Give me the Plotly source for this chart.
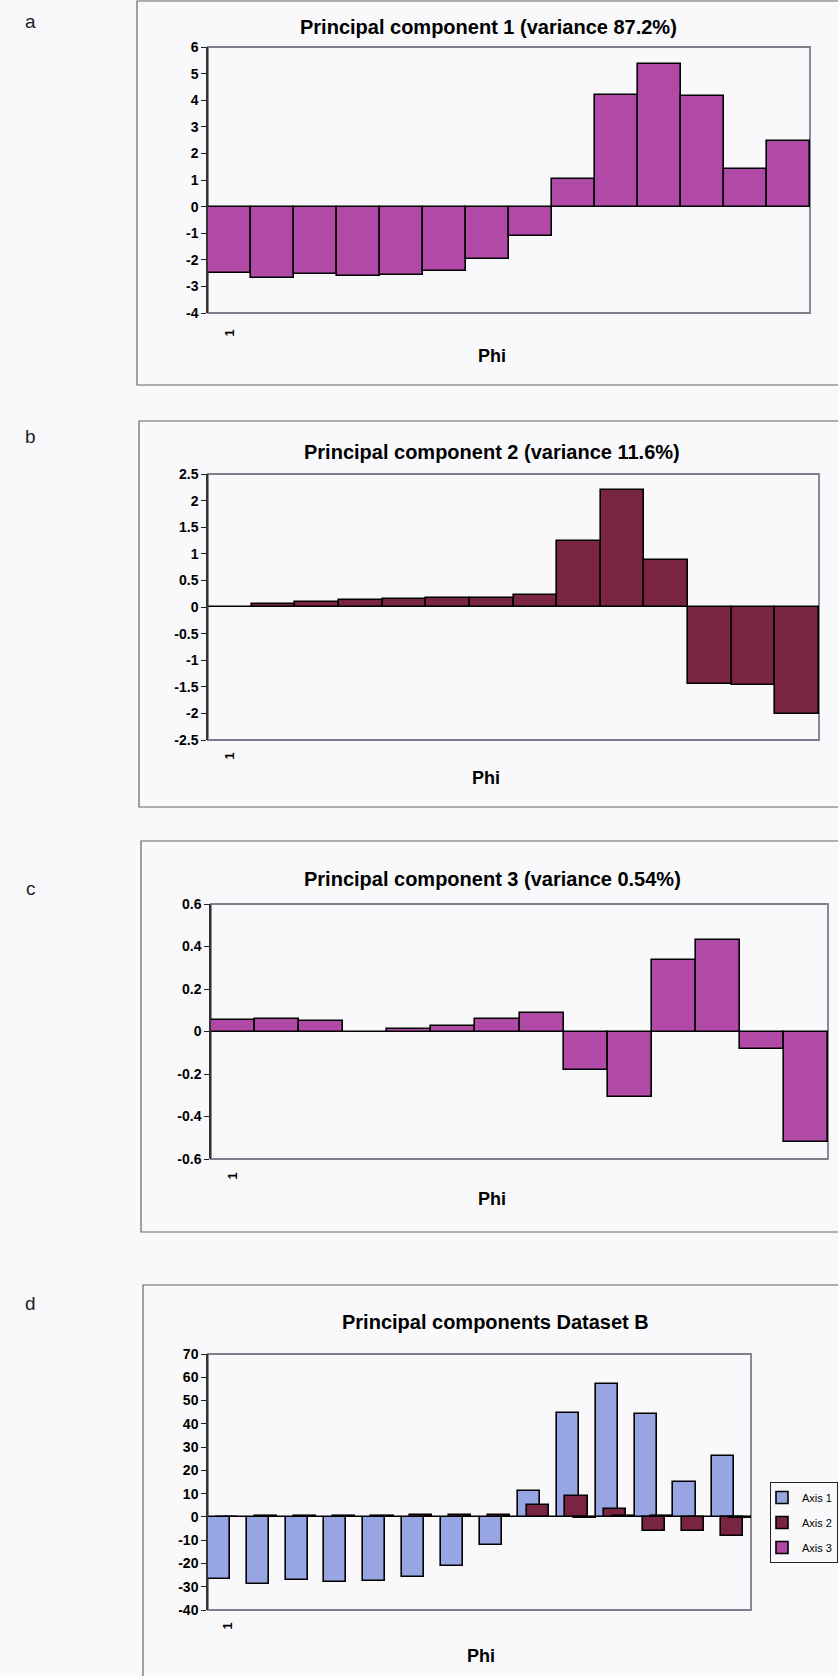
import plotly.graph_objects as go

# ---------------- data ----------------
categories = list(range(1, 15))
x_tick_labels = ["1"]

pc1 = [-2.49, -2.68, -2.54, -2.61, -2.56, -2.42, -1.97, -1.11, 1.03, 4.19, 5.35, 4.16, 1.41, 2.47]
pc2 = [0.0, 0.06, 0.09, 0.13, 0.15, 0.16, 0.16, 0.23, 1.24, 2.19, 0.875, -1.44, -1.47, -2.02]
pc3 = [0.054, 0.061, 0.05, 0.0, 0.011, 0.027, 0.058, 0.085, -0.18, -0.306, 0.337, 0.431, -0.083, -0.518]

axis1 = [-26.6, -28.8, -27.2, -27.9, -27.6, -25.9, -21.2, -12.2, 11.0, 44.6, 56.9, 44.3, 14.9, 26.2]
axis2 = [0.0, 0.25, 0.4, 0.55, 0.6, 0.65, 0.65, 0.9, 5.0, 8.8, 3.4, -5.9, -5.9, -8.1]
axis3 = [0.05, 0.05, 0.04, 0.0, 0.01, 0.02, 0.05, 0.07, -0.16, -0.27, 0.29, 0.37, -0.07, -0.45]

ticks_a = [6, 5, 4, 3, 2, 1, 0, -1, -2, -3, -4]
ticks_a_text = ["6", "5", "4", "3", "2", "1", "0", "-1", "-2", "-3", "-4"]
ticks_b = [2.5, 2, 1.5, 1, 0.5, 0, -0.5, -1, -1.5, -2, -2.5]
ticks_b_text = ["2.5", "2", "1.5", "1", "0.5", "0", "-0.5", "-1", "-1.5", "-2", "-2.5"]
ticks_c = [0.6, 0.4, 0.2, 0, -0.2, -0.4, -0.6]
ticks_c_text = ["0.6", "0.4", "0.2", "0", "-0.2", "-0.4", "-0.6"]
ticks_d = [70, 60, 50, 40, 30, 20, 10, 0, -10, -20, -30, -40]
ticks_d_text = ["70", "60", "50", "40", "30", "20", "10", "0", "-10", "-20", "-30", "-40"]

titles = ["Principal component 1 (variance 87.2%)",
          "Principal component 2 (variance 11.6%)",
          "Principal component 3 (variance 0.54%)",
          "Principal components Dataset B"]
panel_letters = ["a", "b", "c", "d"]
x_title = "Phi"
legend_names = ["Axis 1", "Axis 2", "Axis 3"]

# ---------------- styling / layout ----------------
W, H = 838, 1676
FONT = "Liberation Sans, Arial, sans-serif"
MAGENTA = "#B04AA6"
MAROON = "#7A2443"
BLUE = "#97A6E3"
BG = "#F9F9FB"


def fx(px):
    return px / W


def fy(py):
    return 1 - py / H


def ax_id(letter, n):
    return letter if n == 1 else f"{letter}{n}"


def ax_key(letter, n):
    return f"{letter}axis" if n == 1 else f"{letter}axis{n}"


panels = [
    dict(xr=(208, 810), yr=(47, 313), rng=[-4, 6], tv=ticks_a, tt=ticks_a_text,
         box=(137, 1, 900, 385), title_xy=(488, 27), phi_xy=(492, 356),
         letter_xy=(31, 22), lab_len=10),
    dict(xr=(208, 819), yr=(474, 740), rng=[-2.5, 2.5], tv=ticks_b, tt=ticks_b_text,
         box=(139, 421, 900, 807), title_xy=(492, 452), phi_xy=(486, 778),
         letter_xy=(31, 437), lab_len=6),
    dict(xr=(211, 828), yr=(904, 1159), rng=[-0.6, 0.6], tv=ticks_c, tt=ticks_c_text,
         box=(141, 841, 900, 1232), title_xy=(492, 879), phi_xy=(492, 1199),
         letter_xy=(31, 888), lab_len=7),
    dict(xr=(208, 751), yr=(1354, 1610), rng=[-40, 70], tv=ticks_d, tt=ticks_d_text,
         box=(143, 1285, 900, 1700), title_xy=(496, 1322), phi_xy=(481, 1656),
         letter_xy=(31, 1303), lab_len=6),
]

fig = go.Figure()

series_sets = [
    [(pc1, MAGENTA, None)],
    [(pc2, MAROON, None)],
    [(pc3, MAGENTA, None)],
    [(axis1, BLUE, legend_names[0]), (axis2, MAROON, legend_names[1]), (axis3, MAGENTA, legend_names[2])],
]

d_offsets = [-0.5, -0.285, -0.07]
d_width = 0.57

for i, sers in enumerate(series_sets):
    xa = ax_id("x", 2 * i + 1)
    ya = ax_id("y", i + 1)
    for k, (vals, col, nm) in enumerate(sers):
        if nm is not None:
            kw = dict(offset=d_offsets[k], width=d_width, name=nm, showlegend=True,
                      legendgroup=nm)
        else:
            kw = dict(width=1.0, showlegend=False)
        fig.add_trace(go.Bar(
            x=categories, y=vals, xaxis=xa, yaxis=ya,
            marker=dict(color=col, line=dict(color="black", width=1.6)),
            hoverinfo="x+y", **kw))

layout = dict(
    width=W, height=H, margin=dict(l=0, r=0, t=0, b=0, autoexpand=False),
    paper_bgcolor=BG, plot_bgcolor=BG,
    barmode="overlay", bargap=0,
    font=dict(family=FONT, color="black"),
    showlegend=True,
    legend=dict(x=fx(770), y=fy(1482), xanchor="left", yanchor="top",
                bordercolor="#222", borderwidth=1, bgcolor=BG,
                font=dict(size=11, family=FONT), tracegroupgap=6,
                itemwidth=30, indentation=-9),
)

shapes = []
annotations = []
for i, p in enumerate(panels):
    n_main = 2 * i + 1
    n_zero = 2 * i + 2
    xdom = [fx(p["xr"][0]), fx(p["xr"][1])]
    ydom = [fy(p["yr"][1]), fy(p["yr"][0])]
    ymin, ymax = p["rng"]
    zero_pos = ydom[0] + (0 - ymin) / (ymax - ymin) * (ydom[1] - ydom[0])
    boundaries = [c + 0.5 for c in categories[:-1]]

    layout[ax_key("x", n_main)] = dict(
        domain=xdom, anchor=ax_id("y", i + 1), range=[0.5, len(categories) + 0.5],
        tickvals=categories[:len(x_tick_labels)], ticktext=x_tick_labels,
        tickangle=-90, ticks="outside", ticklen=p["lab_len"], tickcolor="rgba(0,0,0,0)",
        showline=False, showgrid=False, zeroline=False,
        tickfont=dict(size=13, family=FONT, weight="bold"))
    layout[ax_key("x", n_zero)] = dict(
        overlaying=ax_id("x", n_main), anchor="free", position=zero_pos,
        range=[0.5, len(categories) + 0.5], tickvals=boundaries,
        ticks="outside", ticklen=5, tickwidth=1.2, tickcolor="black",
        showline=True, linecolor="black", linewidth=2,
        showticklabels=False, showgrid=False, zeroline=False, side="bottom")
    layout[ax_key("y", i + 1)] = dict(
        domain=ydom, anchor=ax_id("x", n_main), range=p["rng"],
        tickvals=p["tv"], ticktext=p["tt"], ticks="outside", ticklen=5,
        tickcolor="#222", showline=True, linecolor="#333", linewidth=1.5,
        showgrid=False, zeroline=False,
        tickfont=dict(size=14, family=FONT, weight="bold"))

    shapes.append(dict(type="rect", xref=ax_id("x", n_main) + " domain",
                       yref=ax_id("y", i + 1) + " domain",
                       x0=0, x1=1, y0=0, y1=1, line=dict(color="#7E7E8C", width=1.8),
                       layer="below"))
    bx0, by0, bx1, by1 = p["box"]
    shapes.append(dict(type="rect", xref="paper", yref="paper",
                       x0=fx(bx0), x1=fx(bx1), y0=fy(by1), y1=fy(by0),
                       line=dict(color="#666", width=1.2), layer="below"))

    annotations.append(dict(text=f"<b>{titles[i]}</b>", xref="paper", yref="paper",
                            x=fx(p["title_xy"][0]), y=fy(p["title_xy"][1]),
                            xanchor="center", yanchor="middle", showarrow=False,
                            font=dict(size=20, family=FONT, color="black")))
    annotations.append(dict(text=f"<b>{x_title}</b>", xref="paper", yref="paper",
                            x=fx(p["phi_xy"][0]), y=fy(p["phi_xy"][1]),
                            xanchor="center", yanchor="middle", showarrow=False,
                            font=dict(size=18, family=FONT, color="black")))
    annotations.append(dict(text=panel_letters[i], xref="paper", yref="paper",
                            x=fx(p["letter_xy"][0]), y=fy(p["letter_xy"][1]),
                            xanchor="center", yanchor="middle", showarrow=False,
                            font=dict(size=19, family=FONT, color="#222")))

layout["shapes"] = shapes
layout["annotations"] = annotations
fig.update_layout(**layout)

fig.write_html("out.html")
